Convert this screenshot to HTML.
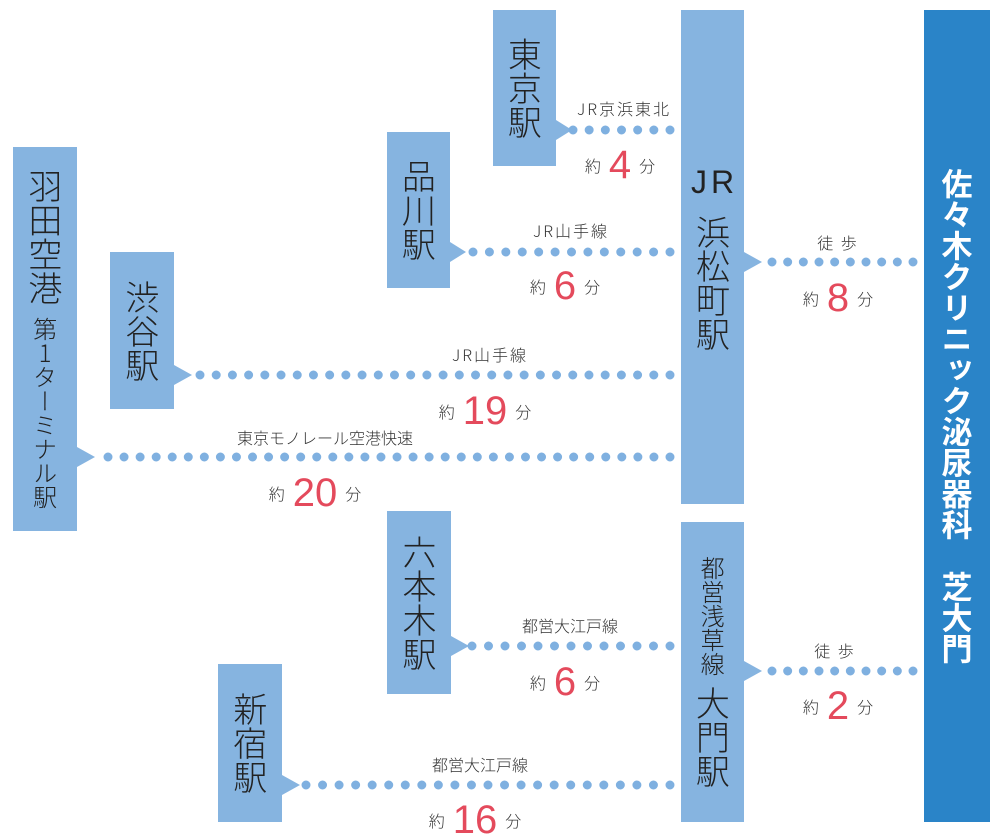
<!DOCTYPE html>
<html><head><meta charset="utf-8"><style>
body{margin:0;background:#fff;}
#c{position:relative;width:1000px;height:840px;overflow:hidden;font-family:"Liberation Sans","Noto Sans CJK JP",sans-serif;color:#222;}
.b{position:absolute;background:#86b4e0;display:flex;flex-direction:column;align-items:center;justify-content:center;}
.v{writing-mode:vertical-rl;text-orientation:upright;font-family:"Noto Sans CJK JP",sans-serif;font-weight:300;line-height:1;}
.t{position:absolute;font-family:"Noto Sans CJK JP",sans-serif;font-size:16px;letter-spacing:2px;white-space:nowrap;transform:translateX(-50%);line-height:1;color:#333;font-weight:300;}
.m{position:absolute;font-family:"Noto Sans CJK JP",sans-serif;font-size:16px;white-space:nowrap;transform:translateX(-50%);line-height:1;color:#333;font-weight:300;}
.m span{font-family:"Liberation Sans",sans-serif;font-size:40px;color:#e44a5c;margin:0 8px;vertical-align:-6px;line-height:1;}
</style></head><body><div id="c">
<svg width="1000" height="840" style="position:absolute;left:0;top:0">
<g fill="#86b4e0">
<polygon points="556,120 572,130 556,140"/>
<polygon points="450,242 466,252 450,262"/>
<polygon points="174,365 192,375 174,385"/>
<polygon points="77,447 95,457 77,467"/>
<polygon points="744,252 762,262 744,272"/>
<polygon points="451,636 469,646 451,656"/>
<polygon points="282,775 300,785 282,795"/>
<polygon points="744,661 762,671 744,681"/>
</g>
<g stroke="#7fb0e0" stroke-width="9" stroke-linecap="round" fill="none">
<line x1="573" y1="130" x2="672" y2="130" stroke-dasharray="0 16.167"/>
<line x1="473" y1="252" x2="672" y2="252" stroke-dasharray="0 16.417"/>
<line x1="200" y1="375" x2="672" y2="375" stroke-dasharray="0 16.207"/>
<line x1="108" y1="457" x2="672" y2="457" stroke-dasharray="0 16.057"/>
<line x1="772" y1="262" x2="915" y2="262" stroke-dasharray="0 15.667"/>
<line x1="472" y1="646" x2="672" y2="646" stroke-dasharray="0 16.5"/>
<line x1="306" y1="785" x2="672" y2="785" stroke-dasharray="0 16.545"/>
<line x1="772" y1="671" x2="915" y2="671" stroke-dasharray="0 15.667"/>
</g>
</svg>

<div class="b" style="left:493px;top:10px;width:63px;height:156px"><div class="v" style="font-size:34px;line-height:1.05">東京駅</div></div>
<div class="b" style="left:387px;top:132px;width:63px;height:156px"><div class="v" style="font-size:34px;line-height:1.05">品川駅</div></div>
<div class="b" style="left:110px;top:252px;width:64px;height:157px"><div class="v" style="font-size:34px;line-height:1.05">渋谷駅</div></div>
<div class="b" style="left:13px;top:147px;width:64px;height:384px"><div class="v" style="font-size:34px;line-height:1.05">羽田空港</div><div class="v" style="font-size:24px;margin-top:12px;line-height:1.05">第1ターミナル駅</div></div>
<div class="b" style="left:681px;top:10px;width:63px;height:494px"><div style="font-family:'Liberation Sans',sans-serif;font-size:32px;letter-spacing:4px;font-weight:300;margin-left:4px">JR</div><div class="v" style="font-size:34px;margin-top:14px;line-height:1.18">浜松町駅</div></div>
<div class="b" style="left:387px;top:511px;width:64px;height:183px"><div class="v" style="font-size:34px;line-height:1.12">六本木駅</div></div>
<div class="b" style="left:218px;top:664px;width:64px;height:158px"><div class="v" style="font-size:34px;line-height:1.05">新宿駅</div></div>
<div class="b" style="left:681px;top:522px;width:63px;height:300px"><div class="v" style="font-size:24px;line-height:1.05">都営浅草線</div><div class="v" style="font-size:34px;margin-top:10px;line-height:1.05">大門駅</div></div>
<div class="b" style="left:924px;top:10px;width:66px;height:812px;background:#2a84c8"><div class="v" style="font-size:31px;font-weight:700;color:#fff;line-height:1">佐々木クリニック泌尿器科&nbsp;芝大門</div></div>

<div class="t" style="left:624px;top:100px">JR京浜東北</div>
<div class="m" style="left:620px;top:145px">約<span>4</span>分</div>
<div class="t" style="left:571px;top:222px">JR山手線</div>
<div class="m" style="left:565px;top:266px">約<span>6</span>分</div>
<div class="t" style="left:490px;top:346px">JR山手線</div>
<div class="m" style="left:485px;top:391px">約<span>19</span>分</div>
<div class="t" style="left:325px;top:429px;letter-spacing:0">東京モノレール空港快速</div>
<div class="m" style="left:315px;top:473px">約<span>20</span>分</div>
<div class="t" style="left:838px;top:234px">徒 歩</div>
<div class="m" style="left:838px;top:278px">約<span>8</span>分</div>
<div class="t" style="left:570px;top:617px;letter-spacing:0">都営大江戸線</div>
<div class="m" style="left:565px;top:662px">約<span>6</span>分</div>
<div class="t" style="left:480px;top:756px;letter-spacing:0">都営大江戸線</div>
<div class="m" style="left:475px;top:800px">約<span>16</span>分</div>
<div class="t" style="left:835px;top:642px">徒 歩</div>
<div class="m" style="left:838px;top:686px">約<span>2</span>分</div>
</div></body></html>
